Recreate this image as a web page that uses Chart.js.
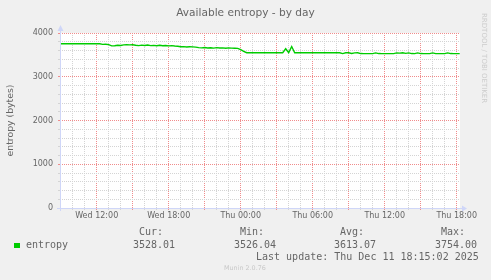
<!DOCTYPE html>
<html><head><meta charset="utf-8">
<script src="https://cdn.jsdelivr.net/npm/chart.js@4"></script>
<style>
html,body{margin:0;padding:0;background:#F0F0F0;}
#wrap{position:relative;width:491px;height:280px;overflow:hidden;background:#F0F0F0;}
canvas{position:absolute;left:0;top:0;}
.t{position:absolute;white-space:pre;font-family:'DejaVu Sans Mono',monospace;font-size:10px;line-height:12px;color:#666;}
.title{position:absolute;left:0;width:491px;top:5px;text-align:center;white-space:pre;font-family:'DejaVu Sans',sans-serif;font-size:10.6px;line-height:14px;color:#666;}
.munin{position:absolute;white-space:pre;font-family:'DejaVu Sans',sans-serif;font-size:6.4px;line-height:8px;color:#C8C8C8;left:224px;top:264px;}
.rrd{position:absolute;white-space:pre;font-family:'DejaVu Sans',sans-serif;font-size:7px;line-height:8px;color:#CCCCCC;left:480px;top:13px;writing-mode:vertical-rl;}
.sq{position:absolute;left:14px;top:243px;width:6px;height:5px;background:#00CC00;}
</style></head><body>
<div id="wrap">
<canvas id="c" width="491" height="280"></canvas>
<div class="title">Available entropy - by day</div>
<div class="t" style="left:139px;top:226px">Cur:</div>
<div class="t" style="left:240px;top:226px">Min:</div>
<div class="t" style="left:340px;top:226px">Avg:</div>
<div class="t" style="left:441px;top:226px">Max:</div>
<div class="sq"></div>
<div class="t" style="left:26px;top:239px">entropy</div>
<div class="t" style="left:133px;top:239px">3528.01</div>
<div class="t" style="left:234px;top:239px">3526.04</div>
<div class="t" style="left:334px;top:239px">3613.07</div>
<div class="t" style="left:435px;top:239px">3754.00</div>
<div class="t" style="left:256px;top:251px">Last update: Thu Dec 11 18:15:02 2025</div>
<div class="munin">Munin 2.0.76</div>
<div class="rrd">RRDTOOL / TOBI OETIKER</div>
</div>
<script>
// Sample grid: hours since Wed 00:00, one sample every 15 minutes
const startHour = 9;
const stepHours = 0.25;
const entropyValues = [
  3754,3754,3754,3754,3754,3754,3754,3754,3754,3754,3754,3754,3754,3754,
  3740,3742,3735,3705,3708,3720,3715,3728,3732,3728,3730,
  3720,3712,3722,3715,3725,3712,3718,3710,3720,3708,3714,3705,3712,3702,3698,
  3685,3688,3680,3686,3682,3678,
  3665,3660,3668,3658,3662,3655,3665,3658,3660,3652,3660,3655,
  3652,3648,3620,3580,3550,
  3548,3548,3548,3548,3548,3548,3548,3548,3548,3548,3548,3548,
  3640,3552,3690,3548,
  3548,3548,3548,3548,3548,3548,3548,3548,3548,3548,3548,3548,3548,3548,
  3548,3530,3548,3548,3532,3545,3548,3530,3528,3528,3528,3528,3545,3530,3528,3528,
  3528,3528,3528,3546,3540,3548,3535,3545,3530,3528,3545,3530,3528,3528,3528,3545,
  3528,3528,3528,3528,3545,3530,3528,3528,3528.01
];
const xTickHours = [12, 18, 24, 30, 36, 42];
const xTickLabels = ['Wed 12:00', 'Wed 18:00', 'Thu 00:00', 'Thu 06:00', 'Thu 12:00', 'Thu 18:00'];
const yTickValues = [0, 1000, 2000, 3000, 4000];
const xMin = 8.942, xMax = 42.275;

const points = entropyValues.map((v, i) => ({x: startHour + i * stepHours, y: v}));

const MAJOR = '#F08C8C';
const MINOR = '#D4D4D4';
const AXIS = '#CFD6F8';

const framePlugin = {
  id: 'frame',
  beforeDraw(chart) {
    const {ctx, chartArea: a} = chart;
    ctx.save();
    ctx.fillStyle = '#FFFFFF';
    ctx.fillRect(a.left, a.top, a.right - a.left, a.bottom - a.top);
    ctx.restore();
  },
  afterDraw(chart) {
    const {ctx, chartArea: a} = chart;
    ctx.save();
    ctx.strokeStyle = AXIS;
    ctx.fillStyle = AXIS;
    ctx.lineWidth = 1;
    const lx = Math.round(a.left) + 0.5, by = Math.round(a.bottom) + 0.5;
    ctx.beginPath();
    ctx.moveTo(lx, a.bottom + 3); ctx.lineTo(lx, a.top - 4);
    ctx.moveTo(a.left - 3, by); ctx.lineTo(a.right + 3, by);
    ctx.stroke();
    ctx.beginPath();
    ctx.moveTo(lx, a.top - 8); ctx.lineTo(lx - 3, a.top - 2); ctx.lineTo(lx + 3, a.top - 2); ctx.closePath();
    ctx.fill();
    ctx.beginPath();
    ctx.moveTo(a.right + 7, by); ctx.lineTo(a.right + 2, by - 3); ctx.lineTo(a.right + 2, by + 3); ctx.closePath();
    ctx.fill();
    ctx.restore();
  }
};

new Chart(document.getElementById('c'), {
  type: 'line',
  data: {
    datasets: [{
      label: 'entropy',
      data: points,
      borderColor: '#00CC00',
      borderWidth: 1.4,
      pointRadius: 0,
      tension: 0,
      fill: false
    }]
  },
  options: {
    responsive: false,
    animation: false,
    devicePixelRatio: 1,
    layout: {padding: {left: 0, right: 31, top: 33, bottom: 0}},
    plugins: {
      legend: {display: false},
      tooltip: {enabled: false},
      title: {display: false}
    },
    scales: {
      x: {
        type: 'linear',
        min: xMin,
        max: xMax,
        afterFit: s => { s.height = 72; },
        border: {display: false, dash: [1, 1]},
        grid: {
          color: c => {
            const v = c.tick ? Math.round(c.tick.value) : 0;
            return (v % 3 === 0) ? MAJOR : MINOR;
          },
          borderDash: [1, 1],
          lineWidth: 1,
          drawTicks: true,
          tickLength: 2,
          tickColor: c => {
            const v = c.tick ? Math.round(c.tick.value) : 0;
            return (v % 3 === 0) ? MAJOR : MINOR;
          },
          tickBorderDash: []
        },
        ticks: {
          stepSize: 1,
          includeBounds: false,
          autoSkip: false,
          maxRotation: 0,
          padding: 1,
          color: '#666666',
          font: {family: 'DejaVu Sans', size: 8},
          callback: v => { const k = xTickHours.indexOf(v); return k >= 0 ? xTickLabels[k] : ''; }
        }
      },
      y: {
        min: 0,
        max: 4000,
        afterFit: s => { s.width = 60; },
        border: {display: false, dash: [1, 1]},
        grid: {
          color: c => (c.tick && yTickValues.includes(c.tick.value)) ? MAJOR : MINOR,
          borderDash: [1, 1],
          lineWidth: 1,
          drawTicks: true,
          tickLength: 2,
          tickBorderDash: []
        },
        ticks: {
          stepSize: 200,
          autoSkip: false,
          padding: 5,
          color: '#666666',
          font: {family: 'DejaVu Sans', size: 8},
          callback: v => yTickValues.includes(v) ? String(v) : ''
        },
        title: {
          display: true,
          text: 'entropy (bytes)',
          color: '#666666',
          font: {family: 'DejaVu Sans', size: 9.3, weight: 'normal'},
          padding: {top: 5, bottom: 0}
        }
      }
    }
  },
  plugins: [framePlugin]
});
</script>
</body></html>
